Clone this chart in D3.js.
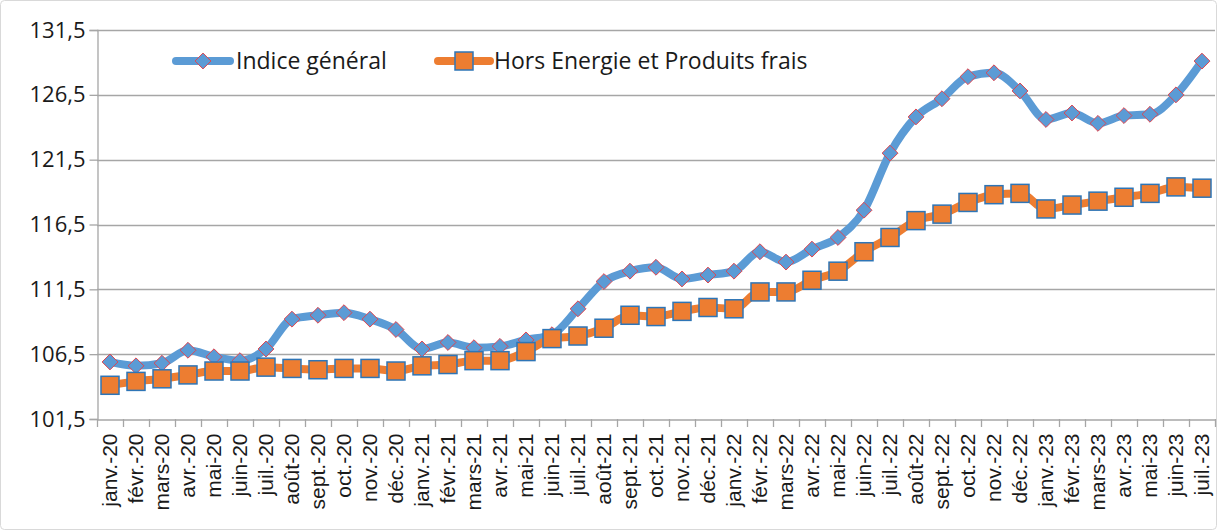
<!DOCTYPE html>
<html>
<head>
<meta charset="utf-8">
<script src="https://cdn.jsdelivr.net/npm/d3@7"></script>
<style>
  body { margin: 0; background: #fff; }
  svg { display: block; font-family: "Open Sans", "Noto Sans", sans-serif; }
</style>
</head>
<body>
<div id="chart"></div>
<script>
const months = ["janv.", "févr.", "mars", "avr.", "mai", "juin", "juil.", "août", "sept.", "oct.", "nov.", "déc."];
const categories = [];
for (let yr = 20; yr <= 23; yr++) {
  for (const m of months) categories.push(m + "-" + yr);
}
categories.length = 43; // janv.-20 .. juil.-23

const indiceGeneral = [
  105.9, 105.6, 105.8, 106.8, 106.3, 106.0, 106.9, 109.2, 109.5, 109.7, 109.2, 108.4,
  106.9, 107.4, 107.0, 107.1, 107.6, 108.0, 110.0, 112.1, 112.9, 113.2, 112.3, 112.6,
  112.9, 114.4, 113.6, 114.6, 115.5, 117.6, 122.0, 124.8, 126.2, 127.9, 128.2, 126.8,
  124.6, 125.1, 124.3, 124.9, 125.0, 126.5, 129.1
];
const horsEnergie = [
  104.1, 104.4, 104.6, 104.9, 105.2, 105.2, 105.5, 105.4, 105.3, 105.4, 105.4, 105.2,
  105.6, 105.7, 106.0, 106.0, 106.7, 107.7, 107.9, 108.5, 109.5, 109.4, 109.8, 110.1,
  110.0, 111.3, 111.3, 112.2, 112.9, 114.4, 115.5, 116.8, 117.3, 118.2, 118.8, 118.9,
  117.7, 118.0, 118.3, 118.6, 118.9, 119.4, 119.3
];
const yTicks = [101.5, 106.5, 111.5, 116.5, 121.5, 126.5, 131.5];
const seriesNames = ["Indice général", "Hors Energie et Produits frais"];

const width = 1217, height = 530;
const margin = { top: 30, right: 2, bottom: 111, left: 97 };

const svg = d3.select("#chart").append("svg")
  .attr("width", width).attr("height", height);

svg.append("rect")
  .attr("x", 0.5).attr("y", 0.5).attr("width", width - 1).attr("height", height - 1)
  .attr("rx", 4).attr("fill", "#fff").attr("stroke", "#d9d9d9");

const x = d3.scaleBand().domain(categories)
  .range([margin.left, width - margin.right]);
const y = d3.scaleLinear().domain([101.5, 131.5])
  .range([height - margin.bottom, margin.top]);

const fmt = d => d3.format(".1f")(d).replace(".", ",");

// gridlines
svg.append("g").selectAll("line").data(yTicks.slice(1)).join("line")
  .attr("x1", margin.left).attr("x2", width - margin.right)
  .attr("y1", d => Math.round(y(d)) + 0.5).attr("y2", d => Math.round(y(d)) + 0.5)
  .attr("stroke", "#a6a6a6").attr("stroke-width", 1.3);

// y axis
const yAxis = svg.append("g")
  .attr("transform", `translate(${margin.left + 0.5},0)`)
  .call(d3.axisLeft(y).tickValues(yTicks).tickFormat(fmt).tickSize(8).tickPadding(4));
yAxis.select(".domain").attr("stroke", "#a6a6a6").attr("stroke-width", 1.3);
yAxis.selectAll(".tick line").attr("stroke", "#a6a6a6").attr("stroke-width", 1.3);
yAxis.selectAll("text").attr("font-size", 22).attr("fill", "#1a1a1a")
  .attr("font-family", "Open Sans, sans-serif");

// x axis
const xAxis = svg.append("g")
  .attr("transform", `translate(0,${Math.round(y(101.5)) + 0.5})`)
  .call(d3.axisBottom(x).tickSize(0).tickPadding(0));
xAxis.select(".domain").attr("stroke", "#a6a6a6").attr("stroke-width", 1.3);
xAxis.selectAll(".tick text")
  .attr("transform", "rotate(-90)")
  .attr("x", -14).attr("y", 0).attr("dy", "0.35em")
  .attr("text-anchor", "end")
  .attr("font-size", 21).attr("fill", "#1a1a1a");
// boundary ticks
const bounds = categories.map(c => x(c)).concat([x(categories[42]) + x.bandwidth()]);
svg.append("g").selectAll("line").data(bounds).join("line")
  .attr("x1", d => Math.round(d) + 0.5).attr("x2", d => Math.round(d) + 0.5)
  .attr("y1", y(101.5)).attr("y2", y(101.5) + 8)
  .attr("stroke", "#a6a6a6").attr("stroke-width", 1.3);

const cx = (d, i) => x(categories[i]) + x.bandwidth() / 2;
const line = d3.line().x(cx).y(d => y(d)).curve(d3.curveMonotoneX);

// Indice général
svg.append("path").datum(indiceGeneral)
  .attr("d", line).attr("fill", "none")
  .attr("stroke", "#5b9bd5").attr("stroke-width", 8).attr("stroke-linejoin", "round");
svg.append("g").selectAll("path").data(indiceGeneral).join("path")
  .attr("d", d3.symbol(d3.symbolDiamond2, 160))
  .attr("transform", (d, i) => `translate(${cx(d, i)},${y(d)})`)
  .attr("fill", "#5b9bd5").attr("stroke", "#e0454f").attr("stroke-width", 1);

// Hors Energie
svg.append("path").datum(horsEnergie)
  .attr("d", line).attr("fill", "none")
  .attr("stroke", "#ed7d31").attr("stroke-width", 8).attr("stroke-linejoin", "round");
svg.append("g").selectAll("rect").data(horsEnergie).join("rect")
  .attr("x", (d, i) => cx(d, i) - 9).attr("y", d => y(d) - 9)
  .attr("width", 18).attr("height", 18)
  .attr("fill", "#ed7d31").attr("stroke", "#2e75b6").attr("stroke-width", 1.5);

// legend
const lg = svg.append("g").attr("font-size", 23).attr("fill", "#1a1a1a");
lg.append("line").attr("x1", 176).attr("x2", 230).attr("y1", 61).attr("y2", 61)
  .attr("stroke", "#5b9bd5").attr("stroke-width", 8).attr("stroke-linecap", "round");
lg.append("path").attr("d", d3.symbol(d3.symbolDiamond2, 160))
  .attr("transform", "translate(203,61)")
  .attr("fill", "#5b9bd5").attr("stroke", "#e0454f");
lg.append("text").attr("x", 236).attr("y", 61).attr("dy", "0.35em").text(seriesNames[0]);

lg.append("line").attr("x1", 438).attr("x2", 490).attr("y1", 61).attr("y2", 61)
  .attr("stroke", "#ed7d31").attr("stroke-width", 8).attr("stroke-linecap", "round");
lg.append("rect").attr("x", 455).attr("y", 52).attr("width", 18).attr("height", 18)
  .attr("fill", "#ed7d31").attr("stroke", "#2e75b6").attr("stroke-width", 1.5);
lg.append("text").attr("x", 494).attr("y", 61).attr("dy", "0.35em").text(seriesNames[1]);
</script>
</body>
</html>
